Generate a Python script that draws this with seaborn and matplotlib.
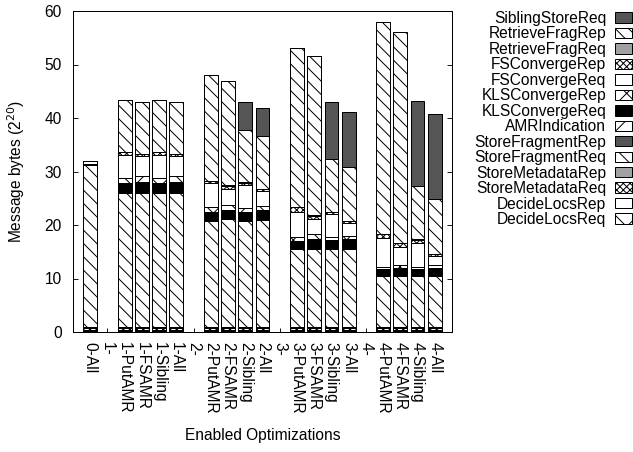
import numpy as np
import pandas as pd
import matplotlib
matplotlib.use("Agg")
import matplotlib.pyplot as plt
import seaborn as sns
from matplotlib.patches import Patch

# Configurations on the x axis
categories = [
    "0-All", "1-", "1-PutAMR", "1-FSAMR", "1-Sibling", "1-All",
    "2-", "2-PutAMR", "2-FSAMR", "2-Sibling", "2-All",
    "3-", "3-PutAMR", "3-FSAMR", "3-Sibling", "3-All",
    "4-", "4-PutAMR", "4-FSAMR", "4-Sibling", "4-All",
]

# Message bytes (2^20) per message type, bottom of the stack first
decide_locs_req = [0.2, 0, 0.2, 0.2, 0.2, 0.2, 0, 0.2, 0.2, 0.2, 0.2, 0, 0.2, 0.2, 0.2, 0.2, 0, 0.2, 0.2, 0.2, 0.2]
decide_locs_rep = [0.1, 0, 0.1, 0.1, 0.1, 0.1, 0, 0.1, 0.1, 0.1, 0.1, 0, 0.1, 0.1, 0.1, 0.1, 0, 0.1, 0.1, 0.1, 0.1]
store_metadata_req = [0.5, 0, 0.5, 0.5, 0.5, 0.5, 0, 0.5, 0.5, 0.5, 0.5, 0, 0.5, 0.5, 0.5, 0.5, 0, 0.5, 0.5, 0.5, 0.5]
store_metadata_rep = [0.2, 0, 0.2, 0.2, 0.2, 0.2, 0, 0.2, 0.2, 0.2, 0.2, 0, 0.2, 0.2, 0.2, 0.2, 0, 0.2, 0.2, 0.2, 0.2]
store_fragment_req = [30.3, 0, 24.9, 25.0, 24.9, 25.0, 0, 19.8, 20.1, 19.8, 20.0, 0, 14.6, 14.6, 14.6, 14.6, 0, 9.5, 9.5, 9.5, 9.5]
store_fragment_rep = [0.1, 0, 0.1, 0.1, 0.1, 0.1, 0, 0.1, 0.1, 0.1, 0.1, 0, 0.1, 0.1, 0.1, 0.1, 0, 0.1, 0.1, 0.1, 0.1]
amr_indication = [0.5, 0, 0.2, 0.2, 0.2, 0.2, 0, 0.2, 0.2, 0.2, 0.2, 0, 0.2, 0.2, 0.2, 0.2, 0, 0.2, 0.2, 0.2, 0.2]
kls_converge_req = [0, 0, 1.6, 1.8, 1.6, 1.8, 0, 1.3, 1.4, 1.3, 1.5, 0, 1.2, 1.5, 1.3, 1.5, 0, 0.9, 1.1, 1.0, 1.1]
kls_converge_rep = [0, 0, 0.9, 1.1, 0.9, 1.1, 0, 0.9, 0.9, 0.7, 0.8, 0, 0.6, 0.9, 0.5, 0.6, 0, 0.5, 0.6, 0.4, 0.6]
fs_converge_req = [0, 0, 4.4, 3.7, 4.4, 3.7, 0, 4.5, 3.0, 4.4, 2.8, 0, 4.8, 2.9, 4.3, 2.3, 0, 5.3, 3.4, 4.5, 1.7]
fs_converge_rep = [0, 0, 0.5, 0.3, 0.5, 0.3, 0, 0.4, 0.6, 0.4, 0.3, 0, 0.8, 0.5, 0.4, 0.4, 0, 0.8, 0.7, 0.5, 0.3]
retrieve_frag_req = [0, 0, 0.1, 0.1, 0.1, 0.1, 0, 0.1, 0.1, 0.1, 0.1, 0, 0.1, 0.1, 0.1, 0.1, 0, 0.1, 0.1, 0.1, 0.1]
retrieve_frag_rep = [0, 0, 9.6, 9.7, 9.6, 9.7, 0, 19.7, 19.6, 9.8, 9.8, 0, 29.6, 29.7, 9.9, 10.0, 0, 39.5, 39.4, 10.0, 10.3]
sibling_store_req = [0, 0, 0, 0, 0, 0, 0, 0, 0, 5.1, 5.2, 0, 0, 0, 10.5, 10.4, 0, 0, 0, 15.8, 15.8]

LIGHT = "#a0a0a0"
DARK = "#555555"

# (label, values, face colour, hatch)
layers = [
    ("DecideLocsReq", decide_locs_req, "white", "x"),
    ("DecideLocsRep", decide_locs_rep, "white", None),
    ("StoreMetadataReq", store_metadata_req, "white", "xxxx"),
    ("StoreMetadataRep", store_metadata_rep, LIGHT, None),
    ("StoreFragmentReq", store_fragment_req, "white", "\\\\"),
    ("StoreFragmentRep", store_fragment_rep, DARK, None),
    ("AMRIndication", amr_indication, "white", "/"),
    ("KLSConvergeReq", kls_converge_req, "black", None),
    ("KLSConvergeRep", kls_converge_rep, "white", "x"),
    ("FSConvergeReq", fs_converge_req, "white", None),
    ("FSConvergeRep", fs_converge_rep, "white", "xxxx"),
    ("RetrieveFragReq", retrieve_frag_req, LIGHT, None),
    ("RetrieveFragRep", retrieve_frag_rep, "white", "\\\\"),
    ("SiblingStoreReq", sibling_store_req, DARK, None),
]

sns.set_theme(style="ticks")
plt.rcParams["font.family"] = ["Liberation Sans", "DejaVu Sans"]
plt.rcParams["hatch.linewidth"] = 0.9
plt.rcParams["hatch.color"] = "black"
for key in ("text.color", "axes.labelcolor", "xtick.color", "ytick.color", "axes.edgecolor"):
    plt.rcParams[key] = "black"

DPI = 80
FS = 14
fig = plt.figure(figsize=(633 / DPI, 452 / DPI), dpi=DPI)
ax = fig.add_axes([73 / 633, 1 - 332 / 452, 379 / 633, 321 / 452])

bottom = np.zeros(len(categories))
for label, values, face, hatch in layers:
    vals = np.asarray(values, dtype=float)
    sns.barplot(
        x=categories, y=vals, order=categories, ax=ax,
        color=face, saturation=1, errorbar=None, width=0.8,
        bottom=bottom.copy(), hatch=hatch, edgecolor="black", linewidth=0.9,
    )
    bottom += vals

ax.set_xlim(-1, len(categories))
ax.set_ylim(0, 60)
ax.set_yticks(range(0, 61, 10))
ax.set_xticks(range(len(categories)))
ax.set_xticklabels(categories, rotation=-90, ha="center", va="top", fontsize=FS)
for t in ax.get_yticklabels():
    t.set_fontsize(FS)

ax.tick_params(axis="y", direction="in", length=4.5, width=0.8, pad=10,
               left=True, right=True, colors="black")
ax.tick_params(axis="x", direction="in", length=3.5, width=0.8, pad=9,
               bottom=True, top=False, colors="black")
for sp in ax.spines.values():
    sp.set_visible(True)
    sp.set_color("black")
    sp.set_linewidth(0.9)

ax.set_ylabel("Message bytes (2$^{20}$)", fontsize=FS, color="black")
ax.set_xlabel("Enabled Optimizations", fontsize=FS, color="black")
ax.yaxis.set_label_coords((27 - 73) / 379, 0.5)
ax.xaxis.set_label_coords(0.5, (332 - 428) / 321)

handles = [
    Patch(facecolor=face, edgecolor="black", hatch=hatch, linewidth=0.9, label=label)
    for label, values, face, hatch in layers[::-1]
]
fig.legend(
    handles=handles, loc="upper right", bbox_to_anchor=(632 / 633, 1 - 11 / 452),
    frameon=False, fontsize=FS, markerfirst=False, handlelength=1.1,
    handleheight=0.65, handletextpad=0.55, labelspacing=0.03,
    borderpad=0, borderaxespad=0,
)

fig.savefig("out.png", dpi=DPI)
